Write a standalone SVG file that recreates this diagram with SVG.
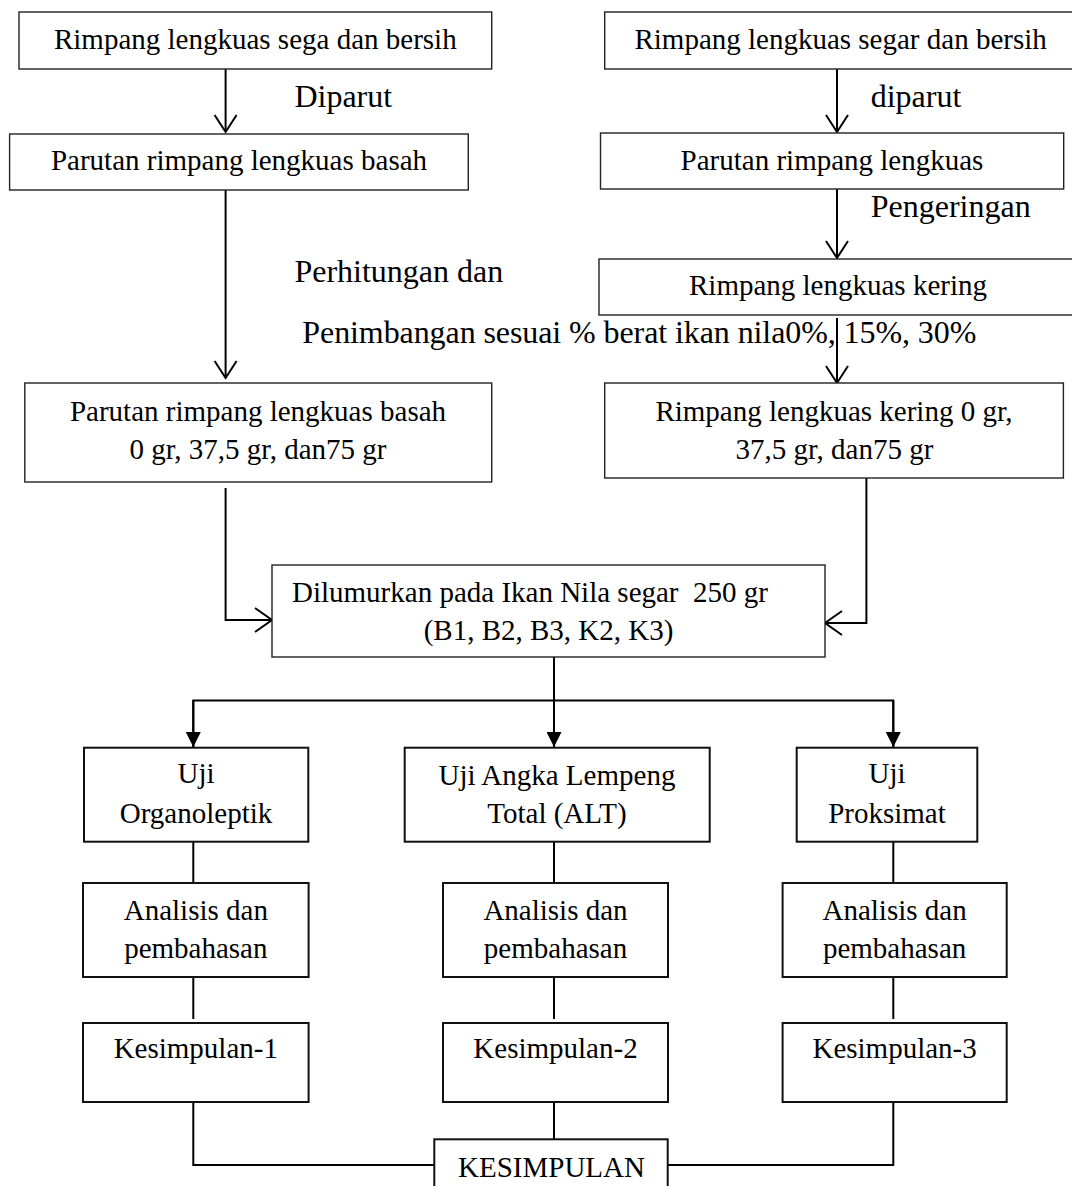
<svg xmlns="http://www.w3.org/2000/svg" width="1072" height="1186" viewBox="0 0 1072 1186">
<style>
text{font-family:"Liberation Serif","Times New Roman",serif;fill:#000}
.t{font-size:29px;text-anchor:middle}
.l{font-size:32px}
.b{fill:#fff;stroke:#222;stroke-width:1.4}
.b2{fill:#fff;stroke:#111;stroke-width:2}
.c{fill:none;stroke:#000;stroke-width:2}
.v{fill:none;stroke:#000;stroke-width:2;stroke-linejoin:miter}
</style>
<defs>
<marker id="tri" markerWidth="15" markerHeight="15" refX="15" refY="7.5" orient="auto" markerUnits="userSpaceOnUse">
<path d="M0,0 L15,7.5 L0,15 Z" fill="#000"/>
</marker>
</defs>
<g id="connectors">
<line class="c" x1="225.6" y1="69" x2="225.6" y2="131"/>
<polyline class="v" points="214.6,115 225.6,132 236.6,115"/>
<line class="c" x1="225.6" y1="190" x2="225.6" y2="377"/>
<polyline class="v" points="214.6,361 225.6,378 236.6,361"/>
<line class="c" x1="837" y1="69" x2="837" y2="131"/>
<polyline class="v" points="826,115 837,132 848,115"/>
<line class="c" x1="837" y1="189" x2="837" y2="257"/>
<polyline class="v" points="826,241 837,258 848,241"/>
<line class="c" x1="837" y1="318" x2="837" y2="382"/>
<polyline class="v" points="826,366 837,383 848,366"/>
<polyline class="c" points="225.6,488 225.6,620 271,620"/>
<polyline class="v" points="255,608 272,620 255,632"/>
<polyline class="c" points="866.4,478 866.4,623 826,623"/>
<polyline class="v" points="842,611 825,623 842,635"/>
<line class="c" x1="554" y1="657" x2="554" y2="700.5"/>
<polyline class="c" points="193.3,747 193.3,700.5 893.3,700.5 893.3,747"/>
<line class="c" x1="193.3" y1="700.5" x2="193.3" y2="747" marker-end="url(#tri)"/>
<line class="c" x1="554" y1="700.5" x2="554" y2="747" marker-end="url(#tri)"/>
<line class="c" x1="893.3" y1="700.5" x2="893.3" y2="747" marker-end="url(#tri)"/>
<line class="c" x1="193.3" y1="842" x2="193.3" y2="883"/>
<line class="c" x1="554" y1="842" x2="554" y2="883"/>
<line class="c" x1="893.3" y1="842" x2="893.3" y2="883"/>
<line class="c" x1="193.3" y1="977" x2="193.3" y2="1019"/>
<line class="c" x1="554" y1="977" x2="554" y2="1019"/>
<line class="c" x1="893.3" y1="977" x2="893.3" y2="1019"/>
<polyline class="c" points="193.3,1102 193.3,1165 434.3,1165"/>
<line class="c" x1="554" y1="1102" x2="554" y2="1139.3"/>
<polyline class="c" points="893.3,1102 893.3,1165 667.7,1165"/>
</g>
<g id="labels">
<text class="l" x="294.4" y="107">Diparut</text>
<text class="l" x="870.7" y="107">diparut</text>
<text class="l" x="870.7" y="217">Pengeringan</text>
<text class="l" x="294.4" y="282">Perhitungan dan</text>
<text class="l" x="302.3" y="343" textLength="674" lengthAdjust="spacing">Penimbangan sesuai % berat ikan nila0%, 15%, 30%</text>
</g>
<g id="n1"><rect class="b" x="19" y="12" width="472.7" height="57"/><text class="t" x="255.3" y="49">Rimpang lengkuas sega dan bersih</text></g>
<g id="n2"><rect class="b" x="9.6" y="134" width="458.7" height="56"/><text class="t" x="239" y="170">Parutan rimpang lengkuas basah</text></g>
<g id="n3"><rect class="b" x="24.8" y="383" width="466.9" height="99"/><text class="t" x="258" y="421">Parutan rimpang lengkuas basah</text><text class="t" x="258" y="459">0 gr, 37,5 gr, dan75 gr</text></g>
<g id="r1"><rect class="b" x="604.7" y="12" width="470" height="57"/><text class="t" x="840.6" y="49">Rimpang lengkuas segar dan bersih</text></g>
<g id="r2"><rect class="b" x="600.5" y="133" width="463.2" height="56"/><text class="t" x="832" y="170">Parutan rimpang lengkuas</text></g>
<g id="r3"><rect class="b" x="599" y="259" width="476" height="56"/><text class="t" x="838" y="295">Rimpang lengkuas kering</text></g>
<g id="r4"><rect class="b" x="604.7" y="383" width="458.7" height="95"/><text class="t" x="834" y="421">Rimpang lengkuas kering 0 gr,</text><text class="t" x="834.5" y="459">37,5 gr, dan75 gr</text></g>
<g id="mix"><rect class="b" x="272" y="565" width="553" height="92"/><text style="font-size:29px" x="292" y="602" xml:space="preserve">Dilumurkan pada Ikan Nila segar  250 gr</text><text class="t" x="548.5" y="640">(B1, B2, B3, K2, K3)</text></g>
<g id="uji1"><rect class="b2" x="84" y="747.7" width="224.3" height="94"/><text class="t" x="196" y="783">Uji</text><text class="t" x="196" y="823">Organoleptik</text></g>
<g id="uji2"><rect class="b2" x="404.7" y="747.7" width="305" height="94"/><text class="t" x="557" y="785">Uji Angka Lempeng</text><text class="t" x="557" y="823">Total (ALT)</text></g>
<g id="uji3"><rect class="b2" x="796.7" y="747.7" width="180.6" height="94"/><text class="t" x="887" y="783">Uji</text><text class="t" x="887" y="823">Proksimat</text></g>
<g id="an1"><rect class="b2" x="83" y="883" width="225.6" height="94"/><text class="t" x="195.8" y="920">Analisis dan</text><text class="t" x="195.8" y="958">pembahasan</text></g>
<g id="an2"><rect class="b2" x="443" y="883" width="225" height="94"/><text class="t" x="555.5" y="920">Analisis dan</text><text class="t" x="555.5" y="958">pembahasan</text></g>
<g id="an3"><rect class="b2" x="782.6" y="883" width="224.1" height="94"/><text class="t" x="894.6" y="920">Analisis dan</text><text class="t" x="894.6" y="958">pembahasan</text></g>
<g id="k1"><rect class="b2" x="83" y="1023" width="225.6" height="79"/><text class="t" x="195.8" y="1058">Kesimpulan-1</text></g>
<g id="k2"><rect class="b2" x="443" y="1023" width="225" height="79"/><text class="t" x="555.5" y="1058">Kesimpulan-2</text></g>
<g id="k3"><rect class="b2" x="782.6" y="1023" width="224.1" height="79"/><text class="t" x="894.6" y="1058">Kesimpulan-3</text></g>
<g id="kes"><rect class="b2" x="434.3" y="1139.3" width="233.4" height="60"/><text class="t" x="551.5" y="1176.7">KESIMPULAN</text></g>
</svg>
